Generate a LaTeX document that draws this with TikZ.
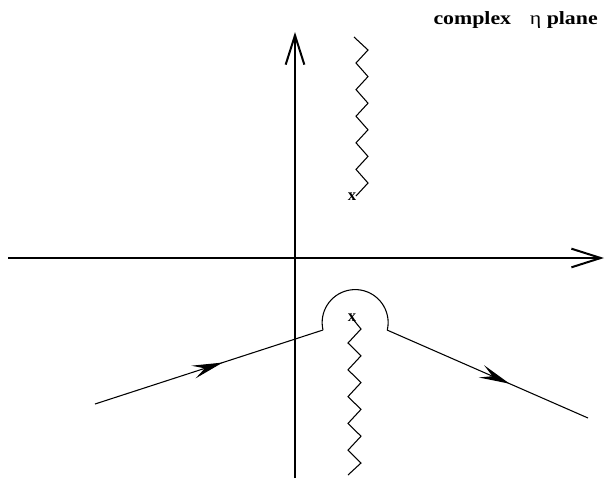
\documentclass[tikz,border=0pt]{standalone}
\usepackage{fontspec}
\usepackage{graphicx}
\setmainfont{Liberation Serif}
\usetikzlibrary{arrows.meta,decorations.markings}
\tikzset{
  axis/.style={line width=1.5pt, -{Straight Barb[length=22pt,width=14pt,line width=1.5pt]}},
  cut/.style={line width=0.8pt, line join=miter},
  contour/.style={line width=0.8pt},
  midarrow/.style={postaction={decorate}, decoration={markings,
    mark=at position #1 with {\arrow{Stealth[length=23pt,width=10pt,inset=9pt]}}}},
  pole/.style={font=\bfseries\fontsize{12.5}{13}\selectfont, inner sep=0pt},
  planelabel/.style={font=\bfseries\fontsize{14}{16}\selectfont, anchor=north east, inner sep=0pt},
}

\begin{document}
\begin{tikzpicture}[x=0.75pt,y=-0.75pt]
\useasboundingbox (0,0) rectangle (608,480);
% axes
\coordinate (vbot) at (295,478);
\coordinate (vtop) at (295,32);
\coordinate (hleft) at (8,258);
\coordinate (hright) at (604,258);
\draw[axis] (vbot) -- (vtop);
\draw[axis] (hleft) -- (hright);
% poles
\node[pole] (upper) at (352,197) {x};
\node[pole] (lower) at (352,318) {x};
% branch cuts
\draw[cut] (354,37) \foreach \k in {0,...,5} { -- (368,{50+26.6*\k}) -- (356,{63+26.6*\k}) };
\draw[cut] (lower.center) \foreach \k in {0,...,4} { -- (361,{329+26.8*\k}) -- (348,{343+26.8*\k}) } -- (361,463) -- (348,475);
% contour
\coordinate (inL) at (95,404);
\coordinate (cl) at (323,330);
\coordinate (cr) at (387,330);
\coordinate (outR) at (588,418);
\draw[contour] (cl) arc[start angle=167, end angle=373, radius=33];
\draw[contour, midarrow=0.56] (inL) -- (cl);
\draw[contour, midarrow=0.61] (cr) -- (outR);
% label
\node[planelabel] (title) at (598,11) {\scalebox{1.17}[1]{complex\hspace{12pt}{\mdseries η} plane}};
\end{tikzpicture}
\end{document}
